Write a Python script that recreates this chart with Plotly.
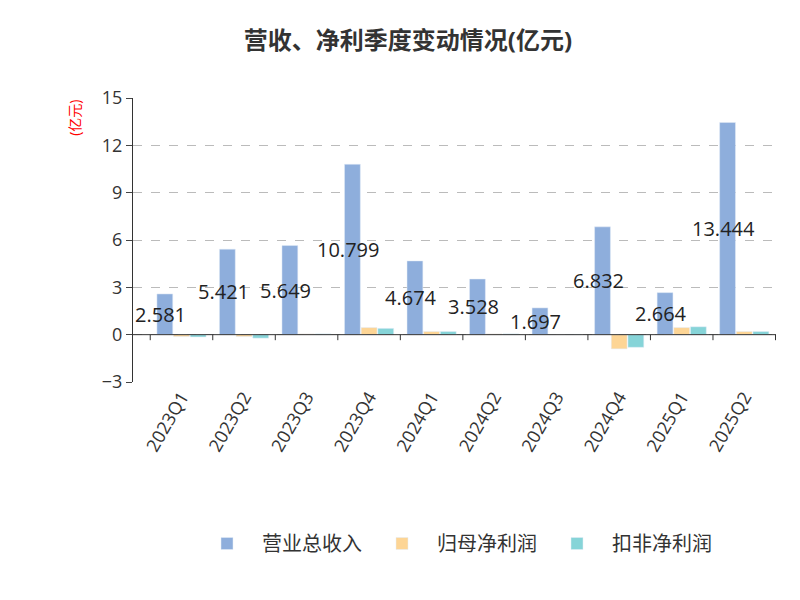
import plotly.graph_objects as go

quarters = ["2023Q1","2023Q2","2023Q3","2023Q4","2024Q1","2024Q2","2024Q3","2024Q4","2025Q1","2025Q2"]
revenue = [2.581,5.421,5.649,10.799,4.674,3.528,1.697,6.832,2.664,13.444]
net_profit = [-0.12,-0.12,0.05,0.45,0.2,0.05,0.02,-0.9,0.45,0.2]
deducted = [-0.15,-0.22,0.05,0.4,0.2,0.05,0.02,-0.8,0.5,0.2]

FONT = "Open Sans, Noto Sans CJK SC"
fig = go.Figure()
fig.add_bar(x=quarters, y=revenue, name="营业总收入", marker_color="#8eaedc")
fig.add_bar(x=quarters, y=net_profit, name="归母净利润", marker_color="#fdd595")
fig.add_bar(x=quarters, y=deducted, name="扣非净利润", marker_color="#86d4d8")
for q, v in zip(quarters, revenue):
    fig.add_annotation(x=q, y=v/2, text=f"{v:.3f}", showarrow=False, xshift=-21,
                       font=dict(size=20, color="#222", family=FONT))
fig.update_layout(
    width=800, height=600, plot_bgcolor="white", paper_bgcolor="white",
    font=dict(family=FONT, color="#333"),
    title=dict(text="<b>营收、净利季度变动情况(亿元)</b>", x=0.5, y=0.96, xanchor="center", font=dict(size=24, color="#333")),
    margin=dict(l=125, r=32, t=90, b=226, autoexpand=False),
    barmode="group", bargap=0.2, bargroupgap=0.05,
    legend=dict(orientation="h", x=0.5, xanchor="center", y=-0.5, yanchor="top", font=dict(size=20), itemwidth=60),
    yaxis=dict(range=[-3,15], tickvals=[-3,0,3,6,9,12,15], showgrid=True, gridcolor="#bbb", griddash="dash",
               zeroline=False, ticks="outside", ticklen=6, tickfont=dict(size=18, color="#333"),
               showline=True, linecolor="#333", automargin=False),
    xaxis=dict(tickangle=-60, tickfont=dict(size=18, color="#333"), showline=False,
               ticks="", automargin=False),
)
fig.add_shape(type="line", xref="paper", x0=0, x1=1, yref="y", y0=0, y1=0, line=dict(color="#333", width=1))
for i in range(len(quarters) + 1):
    fig.add_shape(type="line", xref="x", x0=i-0.5, x1=i-0.5, yref="y", y0=0, y1=-0.35,
                  line=dict(color="#333", width=1))
fig.add_annotation(text="(亿元)", textangle=-90, xref="paper", yref="paper", x=-0.11, y=1.0, yanchor="top",
                   showarrow=False, font=dict(size=14, color="red"))
fig.add_annotation(text="制图数据来自恒生聚源数据库", xref="paper", yref="paper", x=0.5, y=-0.93, showarrow=False,
                   font=dict(size=15, color="#c8951e"))
fig.write_html("out.html")
